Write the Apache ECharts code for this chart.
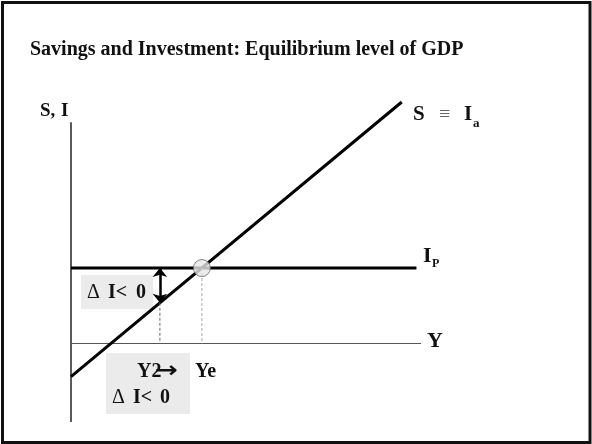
<!DOCTYPE html>
<html>
<head>
<meta charset="utf-8">
<script src="https://cdn.jsdelivr.net/npm/echarts@6/dist/echarts.min.js"></script>
<style>
  html, body { margin: 0; padding: 0; background: #fff; }
  #chart { width: 592px; height: 444px; }
</style>
</head>
<body>
<div id="chart"></div>
<script>
// schematic values (income on x, savings / investment on y)
const savingsLine = [[0, -1.1], [9.45, 8]];
const plannedInvestment = 2.5;
const investLineEnd = 9.87;
const incomeAxisEnd = 10;
const valueAxisRange = [-2.6, 7.33];
const equilibrium = [3.74, 2.5];
const y2Point = [2.54, 1.35];

const serif = '"Liberation Serif", "DejaVu Serif", serif';

function txt(x, y, text, size, opts) {
    opts = opts || {};
    return {
        type: 'text',
        x: x,
        y: y,
        z: 10,
        scaleX: opts.scaleX || 1,
        style: {
            text: text,
            fontFamily: opts.family || serif,
            fontWeight: opts.weight || 'bold',
            fontSize: size,
            fill: opts.color || '#111',
            align: opts.align || 'left',
            verticalAlign: 'middle'
        }
    };
}

const chart = echarts.init(document.getElementById('chart'));

chart.setOption({
    backgroundColor: '#fff',
    animation: false,
    title: {
        text: 'Savings and Investment: Equilibrium level of GDP',
        left: 30,
        top: 40,
        padding: 0,
        textStyle: { fontFamily: serif, fontWeight: 'bold', fontSize: 20, color: '#111' }
    },
    grid: { left: 71, top: 102, width: 350, height: 320 },
    xAxis: { type: 'value', min: 0, max: 10, show: false },
    yAxis: { type: 'value', min: -2.6, max: 8, show: false },
    series: [
        {
            name: 'vertical axis',
            type: 'line',
            data: [[0, valueAxisRange[0]], [0, valueAxisRange[1]]],
            symbol: 'none',
            clip: false,
            lineStyle: { color: '#000', width: 1.3 }
        },
        {
            name: 'income axis',
            type: 'line',
            data: [[0, 0], [incomeAxisEnd, 0]],
            symbol: 'none',
            clip: false,
            lineStyle: { color: '#555', width: 1 }
        },
        {
            name: 'Ip',
            type: 'line',
            data: [[0, plannedInvestment], [investLineEnd, plannedInvestment]],
            symbol: 'none',
            clip: false,
            lineStyle: { color: '#000', width: 3 }
        },
        {
            name: 'S',
            type: 'line',
            data: savingsLine,
            symbol: 'none',
            clip: false,
            lineStyle: { color: '#000', width: 3 }
        },
        {
            name: 'Y2 drop',
            type: 'line',
            data: [y2Point, [y2Point[0], 0]],
            symbol: 'none',
            clip: false,
            lineStyle: { color: '#666', width: 1, type: [3, 2] }
        },
        {
            name: 'Ye drop',
            type: 'line',
            data: [equilibrium, [equilibrium[0], 0]],
            symbol: 'none',
            clip: false,
            lineStyle: { color: '#aaa', width: 1, type: [3, 2] },
            markLine: {
                silent: true,
                symbol: ['arrow', 'arrow'],
                symbolSize: [11, 9],
                label: { show: false },
                lineStyle: { color: '#000', width: 2.5, type: 'solid' },
                data: [[
                    { coord: [y2Point[0], plannedInvestment] },
                    { coord: y2Point }
                ]]
            }
        },
        {
            name: 'equilibrium',
            type: 'scatter',
            data: [equilibrium],
            symbol: 'circle',
            symbolSize: 17,
            z: 5,
            itemStyle: { color: '#e6e6e6', borderColor: '#666', borderWidth: 1 }
        }
    ],
    graphic: [
        {
            type: 'rect',
            shape: { x: 2.5, y: 2.5, width: 587.5, height: 440 },
            style: { fill: 'none', stroke: '#111', lineWidth: 3 }
        },
        {
            type: 'rect',
            shape: { x: 81, y: 275, width: 72, height: 34 },
            style: { fill: '#ebebeb' }
        },
        {
            type: 'rect',
            shape: { x: 106, y: 353, width: 84, height: 61 },
            style: { fill: '#ebebeb' }
        },
        txt(40, 111, 'S,', 19),
        txt(61, 111, 'I', 19),
        txt(413, 115, 'S', 21),
        txt(439, 115, '\u2261', 20, { color: '#666', weight: 'normal' }),
        txt(464, 115, 'I', 21),
        txt(473, 124, 'a', 13),
        txt(423, 256, 'I', 22),
        txt(432, 264, 'P', 12),
        txt(427, 341, 'Y', 22),
        // box 1
        txt(87, 293, '\u0394', 20, { weight: 'normal' }),
        txt(108, 293, 'I<', 20),
        txt(136, 293, '0', 20),
        // box 2
        txt(137, 372, 'Y2', 20),
        txt(155, 371, '\u2192', 22, { family: '"DejaVu Sans", sans-serif', scaleX: 1.25 }),
        txt(195, 372, 'Ye', 20),
        txt(112, 398, '\u0394', 20, { weight: 'normal' }),
        txt(133, 398, 'I<', 20),
        txt(160, 398, '0', 20)
    ]
});
</script>
</body>
</html>
